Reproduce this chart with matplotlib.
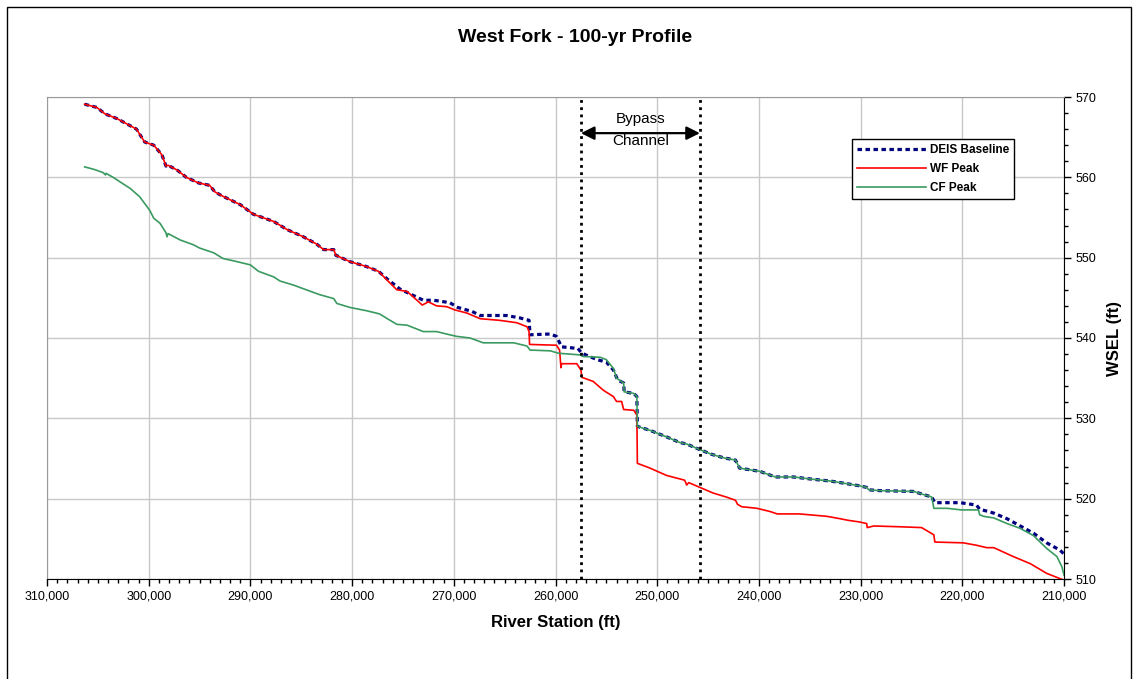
import matplotlib
matplotlib.use("Agg")
import matplotlib.pyplot as plt
from matplotlib.ticker import MultipleLocator, FuncFormatter
from matplotlib.patches import Rectangle

plt.rcParams['font.family'] = ['Liberation Sans', 'DejaVu Sans']

# ---- labels ----
title = "West Fork - 100-yr Profile"
x_label = "River Station (ft)"
y_label = "WSEL (ft)"
series_names = ["DEIS Baseline", "WF Peak", "CF Peak"]
bypass_lines = ["Bypass", "Channel"]
bypass_start = 257500
bypass_end = 245800

# ---- DEIS Baseline profile ----
deis_station = [306300, 305100, 304300, 303100, 301200, 300400, 299500, 298700, 298300, 298100,
                297200, 296300, 295100, 294000, 293500, 292800, 291000, 289700, 287700, 286400,
                284800, 283500, 282800, 281800, 281600, 280200, 278600, 277400, 276600, 275300,
                273000, 272000, 270400, 269600, 268200, 267400, 264800, 263500, 262600, 262500,
                260500, 259900, 259400, 257800, 257400, 255900, 255000, 254300, 253900, 253300,
                253250, 252300, 252000, 251950, 250700, 249100, 247800, 247100, 245800, 244600,
                243500, 242300, 241900, 239900, 238400, 236600, 234600, 233000, 232000, 230100,
                229400, 229200, 228100, 224800, 223000, 222700, 220200, 218600, 218300, 216900,
                215600, 214300, 213000, 211700, 210400, 210000]
deis_wsel = [569.1, 568.7, 567.9, 567.3, 566.0, 564.4, 564.0, 562.8, 561.4, 561.5,
             560.9, 560.0, 559.3, 559.0, 558.2, 557.7, 556.6, 555.4, 554.5, 553.5,
             552.6, 551.7, 551.0, 551.0, 550.3, 549.5, 548.9, 548.3, 547.4, 546.1,
             544.7, 544.7, 544.4, 543.8, 543.3, 542.8, 542.8, 542.5, 542.2, 540.4,
             540.5, 540.2, 538.9, 538.7, 538.1, 537.3, 537.0, 536.0, 534.8, 534.4,
             533.3, 533.1, 532.7, 529.0, 528.5, 527.7, 527.0, 526.8, 526.1, 525.5,
             525.1, 524.8, 523.8, 523.4, 522.7, 522.7, 522.4, 522.2, 522.0, 521.6,
             521.4, 521.1, 521.0, 520.9, 520.2, 519.5, 519.5, 519.2, 518.7, 518.2,
             517.5, 516.6, 515.7, 514.5, 513.6, 513.1]

# ---- West Fork peak profile ----
wf_station = [306300, 305100, 304300, 303100, 301200, 300400, 299500, 298700, 298300, 298100,
              297200, 296300, 295100, 294000, 293500, 292800, 291000, 289700, 287700, 286400,
              284800, 283500, 282800, 281800, 281600, 280200, 278600, 277400, 276400, 275600,
              274600, 273800, 273100, 272500, 271700, 270700, 269900, 268700, 267400, 265500,
              263800, 262800, 262600, 262550, 259900, 259600, 259460, 259400, 257900, 257500,
              257400, 256300, 255300, 254300, 254000, 253500, 253300, 252300, 252000, 251950,
              250700, 249100, 247300, 247100, 246900, 245800, 244500, 243200, 242300, 242100,
              241700, 240200, 238900, 238200, 236000, 233300, 232000, 231200, 230100, 229400,
              229350, 228700, 226100, 224000, 222800, 222700, 219900, 218600, 217600, 216900,
              215000, 213300, 211700, 210700, 210100]
wf_wsel = [569.1, 568.7, 567.9, 567.3, 566.0, 564.4, 564.0, 562.8, 561.4, 561.5,
           560.9, 560.0, 559.3, 559.0, 558.2, 557.7, 556.6, 555.4, 554.5, 553.5,
           552.6, 551.7, 551.0, 551.0, 550.3, 549.5, 548.9, 548.3, 547.0, 546.0,
           545.8, 544.9, 544.1, 544.5, 544.0, 543.9, 543.5, 543.1, 542.4, 542.2,
           541.9, 541.4, 540.8, 539.2, 539.1, 538.5, 536.3, 536.8, 536.8, 536.0,
           535.1, 534.6, 533.5, 532.7, 532.1, 532.1, 531.1, 531.0, 530.4, 524.4,
           523.8, 522.9, 522.3, 521.7, 522.0, 521.4, 520.7, 520.2, 519.8, 519.3,
           519.0, 518.8, 518.4, 518.1, 518.1, 517.8, 517.5, 517.3, 517.1, 516.9,
           516.4, 516.6, 516.5, 516.4, 515.5, 514.6, 514.5, 514.2, 513.9, 513.9,
           512.8, 511.9, 510.7, 510.2, 509.9]

# ---- Clear Fork peak profile ----
cf_station = [306300, 305400, 304500, 304250, 304200, 303500, 301800, 300900, 299900, 299500,
              298900, 298300, 298200, 298100, 296900, 295600, 295000, 293600, 292700, 291300,
              290000, 289200, 287700, 287100, 285800, 284500, 283200, 281800, 281500, 280200,
              278600, 277300, 276400, 275600, 274600, 273000, 271700, 270400, 269700, 268400,
              267100, 264100, 262800, 262500, 260500, 259700, 257600, 257300, 255600, 255000,
              254300, 254000, 253300, 253250, 252300, 252000, 251950, 250700, 249100, 247800,
              247100, 245800, 244600, 243500, 242300, 241900, 239900, 238400, 236600, 234600,
              233000, 232000, 230100, 229400, 229200, 228100, 224800, 223000, 222800, 221500,
              220100, 218400, 218300, 217900, 216900, 215600, 214300, 213000, 211700, 210700,
              210200, 210000]
cf_wsel = [561.3, 561.0, 560.6, 560.3, 560.5, 560.0, 558.6, 557.6, 555.9, 554.9,
           554.3, 553.1, 552.6, 553.0, 552.2, 551.6, 551.2, 550.6, 549.9, 549.5,
           549.1, 548.3, 547.6, 547.1, 546.6, 546.0, 545.4, 544.9, 544.3, 543.8,
           543.4, 543.0, 542.3, 541.7, 541.6, 540.8, 540.8, 540.4, 540.2, 540.0,
           539.4, 539.4, 539.0, 538.5, 538.4, 538.1, 537.9, 537.7, 537.6, 537.3,
           536.2, 535.0, 534.4, 533.3, 533.1, 532.7, 529.0, 528.5, 527.7, 527.0,
           526.8, 526.1, 525.5, 525.1, 524.8, 523.8, 523.4, 522.7, 522.7, 522.4,
           522.2, 522.0, 521.6, 521.4, 521.1, 521.0, 520.9, 520.2, 518.8, 518.8,
           518.6, 518.6, 518.0, 517.8, 517.6, 516.9, 516.3, 515.4, 513.8, 512.8,
           511.5, 510.5]

W, H = 1138, 679
fig = plt.figure(figsize=(W / 100, H / 100), dpi=100)
ax = fig.add_axes([47 / W, 1 - 579 / H, (1064 - 47) / W, (579 - 97) / H])

# profiles
l1, = ax.plot(deis_station, deis_wsel, color='#000080', lw=2.3,
              linestyle=(0, (1.4, 1.1)), zorder=3)
l2, = ax.plot(wf_station, wf_wsel, color='#ff0000', lw=1.2, zorder=4)
l3, = ax.plot(cf_station, cf_wsel, color='#3a9a60', lw=1.2, zorder=5)

# axes ranges, ticks
ax.set_xlim(310000, 210000)
ax.set_ylim(510, 570)
ax.xaxis.set_major_locator(MultipleLocator(10000))
ax.xaxis.set_minor_locator(MultipleLocator(1000))
ax.yaxis.set_major_locator(MultipleLocator(10))
ax.yaxis.set_minor_locator(MultipleLocator(2))
ax.xaxis.set_major_formatter(FuncFormatter(lambda v, p: f"{int(round(v)):,}"))
ax.yaxis.tick_right()
ax.yaxis.set_label_position('right')
ax.tick_params(axis='both', which='major', direction='out', length=5, width=1,
               labelsize=9, pad=3)
ax.tick_params(axis='both', which='minor', direction='out', length=3, width=1)
ax.tick_params(axis='y', which='both', left=False, right=True)

ax.grid(True, which='major', color='#c8c8c8', lw=1)
ax.set_axisbelow(True)
for side in ('left', 'top'):
    ax.spines[side].set_color('#9a9a9a')
for side in ('bottom', 'right'):
    ax.spines[side].set_color('black')

ax.set_xlabel(x_label, fontsize=12, fontweight='bold', labelpad=9)
ax.set_ylabel(y_label, fontsize=12, fontweight='bold', labelpad=8)

# bypass channel markers
for st in (bypass_start, bypass_end):
    ax.axvline(st, color='black', lw=2, linestyle=(0, (1, 1.6)), zorder=6)
mid = (bypass_start + bypass_end) / 2
ax.annotate('', xy=(bypass_start, 565.5), xytext=(bypass_end, 565.5),
            arrowprops=dict(arrowstyle='<|-|>', color='black', lw=1.6,
                            mutation_scale=20, shrinkA=0, shrinkB=0), zorder=7)
ax.text(mid, 567.2, bypass_lines[0], ha='center', va='center', fontsize=11)
ax.text(mid, 564.5, bypass_lines[1], ha='center', va='center', fontsize=11)

leg = ax.legend([l1, l2, l3], series_names, loc='upper left',
                bbox_to_anchor=(0.7915, 0.913), frameon=True, fancybox=False,
                edgecolor='black', framealpha=1, handlelength=5.9,
                handletextpad=0.3, labelspacing=0.6, borderpad=0.4,
                borderaxespad=0, prop=dict(size=8.5, weight='bold'))
leg.get_frame().set_linewidth(1)

fig.text(575 / W, 1 - 37 / H, title, ha='center', va='center',
         fontsize=14, fontweight='bold')

# outer chart frame
fig.patches.append(Rectangle((7 / W, -0.05), (1131 - 7) / W, 1 - 7 / H + 0.05,
                             transform=fig.transFigure, fill=False,
                             edgecolor='black', lw=1))

fig.savefig('out.png', dpi=100)
